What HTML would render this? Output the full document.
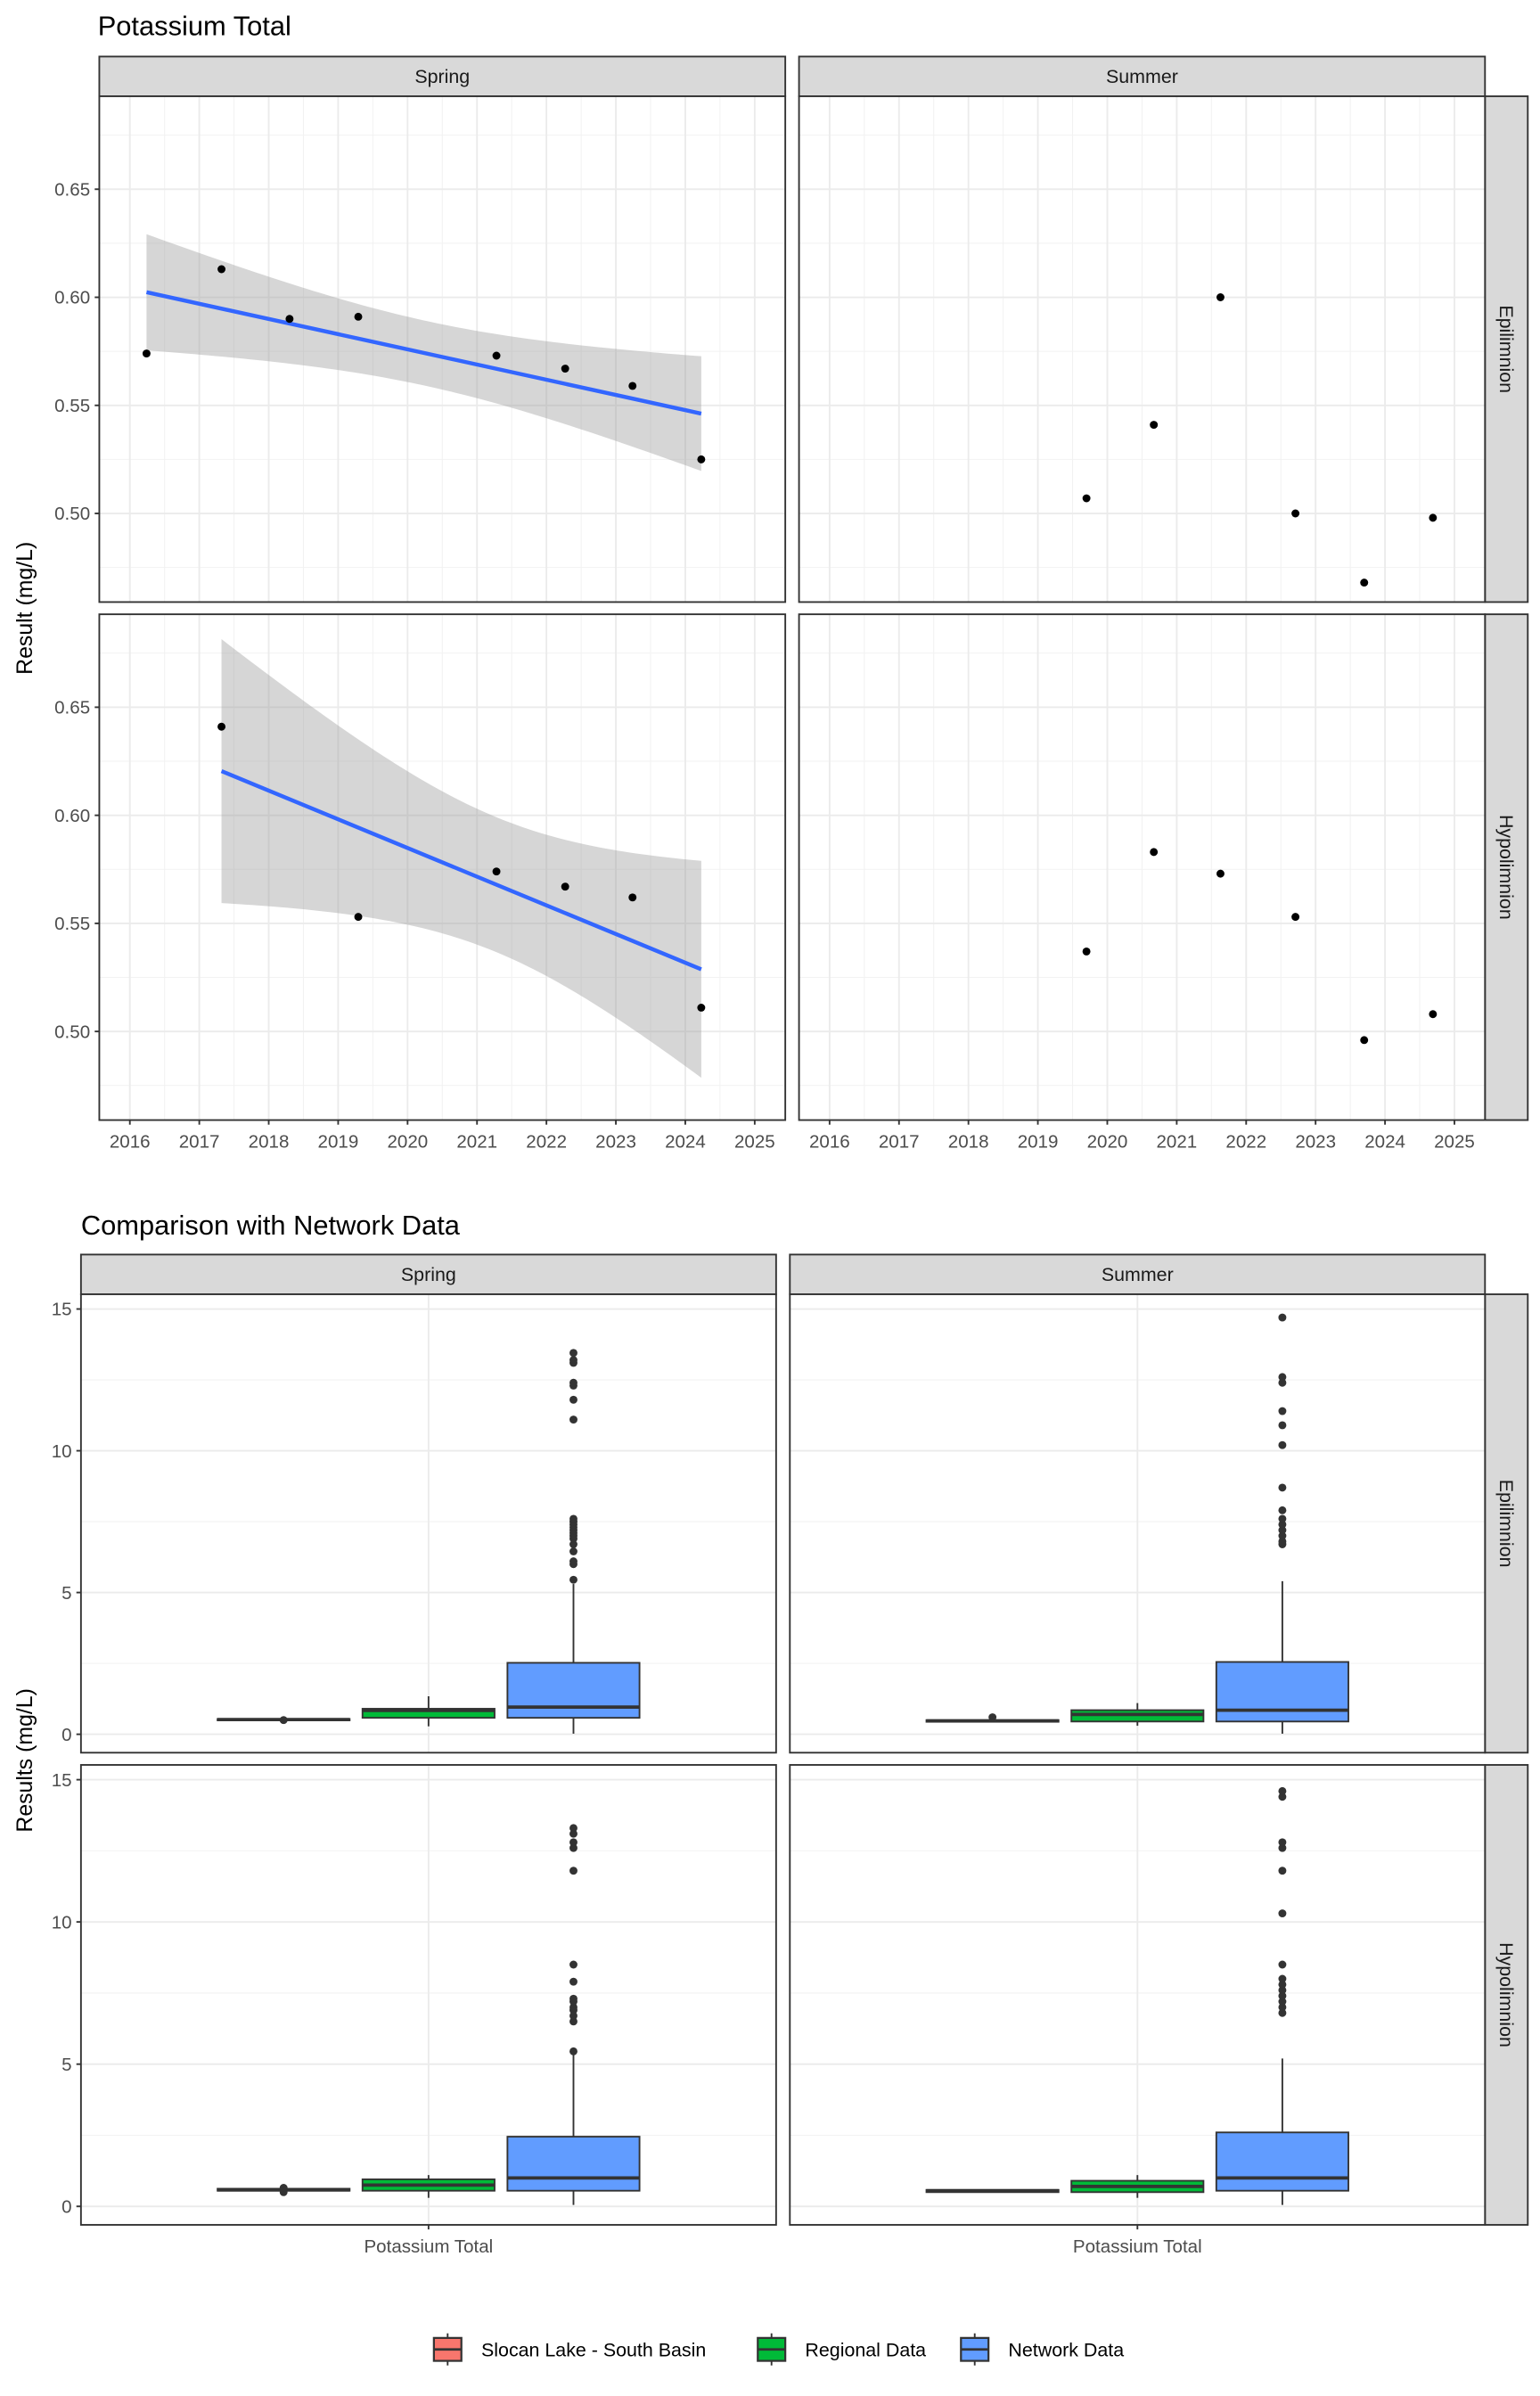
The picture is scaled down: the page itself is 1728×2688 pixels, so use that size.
<!DOCTYPE html>
<html><head><meta charset="utf-8"><style>
html,body{margin:0;padding:0;background:#fff;}
svg{display:block;font-family:"Liberation Sans",Arial,sans-serif;}
</style></head><body>
<svg id="chart" xmlns="http://www.w3.org/2000/svg" width="1728" height="2688" viewBox="0 0 1008 1568">
<rect x="0" y="0" width="1008" height="1568" fill="#fff"/>
</svg>
<script>
// ---- Trend chart data ----
const trendYearTicks = [2016,2017,2018,2019,2020,2021,2022,2023,2024,2025];
const trendValueTicks = [0.50,0.55,0.60,0.65];
const springEpiYears = [2016.24,2017.32,2018.30,2019.29,2021.28,2022.27,2023.24,2024.23];
const springEpiValues = [0.574,0.613,0.590,0.591,0.573,0.567,0.559,0.525];
const springHypoYears = [2017.32,2019.29,2021.28,2022.27,2023.24,2024.23];
const springHypoValues = [0.641,0.553,0.574,0.567,0.562,0.511];
const summerEpiYears = [2019.70,2020.67,2021.63,2022.71,2023.70,2024.69];
const summerEpiValues = [0.507,0.541,0.600,0.500,0.468,0.498];
const summerHypoYears = [2019.70,2020.67,2021.63,2022.71,2023.70,2024.69];
const summerHypoValues = [0.537,0.583,0.573,0.553,0.496,0.508];

// ---- Boxplot data: [lowWhisker, q1, median, q3, highWhisker] ----
const boxGroups = ["Slocan Lake - South Basin","Regional Data","Network Data"];
const boxValueTicks = [0,5,10,15];
const springEpiBoxes = [[0.48,0.49,0.52,0.54,0.56],[0.28,0.58,0.84,0.90,1.34],[0.02,0.58,0.96,2.52,5.3]];
const springEpiOutliers = [[0.50],[],[5.45,6.0,6.1,6.45,6.7,6.9,7.0,7.1,7.2,7.3,7.4,7.5,7.6,11.1,11.8,12.3,12.4,13.1,13.2,13.45]];
const summerEpiBoxes = [[0.42,0.44,0.47,0.50,0.52],[0.3,0.45,0.7,0.85,1.1],[0.02,0.45,0.85,2.55,5.4]];
const summerEpiOutliers = [[0.6],[],[6.7,6.8,7.0,7.2,7.4,7.6,7.9,8.7,10.2,10.9,11.4,12.4,12.6,14.7]];
const springHypoBoxes = [[0.5,0.55,0.58,0.62,0.65],[0.3,0.55,0.75,0.95,1.1],[0.05,0.55,1.0,2.45,5.4]];
const springHypoOutliers = [[0.5,0.65],[],[5.45,6.5,6.7,6.9,7.0,7.2,7.3,7.9,8.5,11.8,12.6,12.8,13.1,13.3]];
const summerHypoBoxes = [[0.5,0.5,0.55,0.58,0.58],[0.3,0.5,0.7,0.9,1.1],[0.05,0.55,1.0,2.6,5.2]];
const summerHypoOutliers = [[],[],[6.8,7.0,7.2,7.4,7.6,7.8,8.0,8.5,10.3,11.8,12.6,12.8,14.4,14.6]];
const boxColors = ["#F8766D","#00BA38","#619CFF"];

const NS="http://www.w3.org/2000/svg";
const svg=document.getElementById('chart');
function mk(tag,attrs,parent,text){const e=document.createElementNS(NS,tag);for(const k in attrs)e.setAttribute(k,attrs[k]);if(text!==undefined)e.textContent=text;(parent||svg).appendChild(e);return e;}

function title(x,y,t,name){const e=mk('text',{x:x,y:y,'font-size':18,fill:'#000'},svg,t);

}
function stripTop(x0,x1,y0,y1,t){const g=mk('g',{});


mk('rect',{x:x0,y:y0,width:x1-x0,height:y1-y0,fill:'#D9D9D9',stroke:'#333','stroke-width':1.1},g);
mk('text',{x:(x0+x1)/2,y:(y0+y1)/2+4.3,'text-anchor':'middle','font-size':12.5,fill:'#1A1A1A'},g,t);}
function stripRight(x0,x1,y0,y1,t){const g=mk('g',{});


mk('rect',{x:x0,y:y0,width:x1-x0,height:y1-y0,fill:'#D9D9D9',stroke:'#333','stroke-width':1.1},g);
const cx=(x0+x1)/2,cy=(y0+y1)/2;
mk('text',{x:cx,y:cy,'text-anchor':'middle','font-size':12.5,fill:'#1A1A1A',transform:`rotate(90 ${cx} ${cy}) translate(0 4.3)`},g,t);}

// ================= TREND CHART =================
title(64,23,'Potassium Total','trend-chart-title');
const tYmin=0.459,tYmax=0.693;
function trendPanel(px0,px1,py0,py1,yrs,vals,fit,name){
  const g=mk('g',{});
  
  
  const xs=v=>px0+20+(v-2016)*(px1-px0-40)/9;
  const ys=v=>py1-(v-tYmin)/(tYmax-tYmin)*(py1-py0);
  mk('rect',{x:px0,y:py0,width:px1-px0,height:py1-py0,fill:'#fff'},g);
  // minor grid
  for(let i=0;i<trendYearTicks.length-1;i++){const x=xs(trendYearTicks[i]+0.5);mk('line',{x1:x,x2:x,y1:py0,y2:py1,stroke:'#F2F2F2','stroke-width':0.6},g);}
  const minors=[0.475,0.525,0.575,0.625,0.675];
  minors.forEach(v=>{const y=ys(v);mk('line',{x1:px0,x2:px1,y1:y,y2:y,stroke:'#F2F2F2','stroke-width':0.6},g);});
  trendYearTicks.forEach(v=>{const x=xs(v);mk('line',{x1:x,x2:x,y1:py0,y2:py1,stroke:'#EBEBEB','stroke-width':1.1},g);});
  trendValueTicks.forEach(v=>{const y=ys(v);mk('line',{x1:px0,x2:px1,y1:y,y2:y,stroke:'#EBEBEB','stroke-width':1.1},g);});
  if(fit){
    const n=yrs.length;const mx=yrs.reduce((a,b)=>a+b)/n,my=vals.reduce((a,b)=>a+b)/n;
    let sxx=0,sxy=0;for(let i=0;i<n;i++){sxx+=(yrs[i]-mx)**2;sxy+=(yrs[i]-mx)*(vals[i]-my);}
    const b=sxy/sxx,a=my-b*mx;let sse=0;for(let i=0;i<n;i++)sse+=(vals[i]-a-b*yrs[i])**2;
    const s=Math.sqrt(sse/(n-2));const tq={4:2.776,5:2.571,6:2.447,7:2.365}[n-2]||2.3;
    const x0=Math.min(...yrs),x1=Math.max(...yrs);const up=[],lo=[];
    for(let k=0;k<=80;k++){const x=x0+(x1-x0)*k/80;const f=a+b*x;const se=s*Math.sqrt(1/n+(x-mx)**2/sxx);
      up.push(xs(x).toFixed(2)+','+ys(f+tq*se).toFixed(2));lo.unshift(xs(x).toFixed(2)+','+ys(f-tq*se).toFixed(2));}
    const band=mk('polygon',{points:up.concat(lo).join(' '),fill:'#999',opacity:0.4},g);
    
    
    const ln=mk('line',{x1:xs(x0),y1:ys(a+b*x0),x2:xs(x1),y2:ys(a+b*x1),stroke:'#3366FF','stroke-width':2.6},g);
    
    
  }
  for(let i=0;i<yrs.length;i++){
    const c=mk('circle',{cx:xs(yrs[i]),cy:ys(vals[i]),r:2.6,fill:'#000'},g);
    
    
  }
  mk('rect',{x:px0,y:py0,width:px1-px0,height:py1-py0,fill:'none',stroke:'#333','stroke-width':1.1},g);
  return {xs,ys};
}
const TL=[65,514],TR=[523,972],R1=[63,394],R2=[402,733];
stripTop(65,514,37,63,'Spring');stripTop(523,972,37,63,'Summer');
stripRight(972,1000,63,394,'Epilimnion');stripRight(972,1000,402,733,'Hypolimnion');
const p1=trendPanel(TL[0],TL[1],R1[0],R1[1],springEpiYears,springEpiValues,true,'panel-spring-epilimnion');
trendPanel(TR[0],TR[1],R1[0],R1[1],summerEpiYears,summerEpiValues,false,'panel-summer-epilimnion');
const p3=trendPanel(TL[0],TL[1],R2[0],R2[1],springHypoYears,springHypoValues,true,'panel-spring-hypolimnion');
const p4=trendPanel(TR[0],TR[1],R2[0],R2[1],summerHypoYears,summerHypoValues,false,'panel-summer-hypolimnion');
// y ticks
[[p1,R1],[p3,R2]].forEach(([p,R])=>{trendValueTicks.forEach(v=>{const y=p.ys(v);
 mk('line',{x1:TL[0]-3,x2:TL[0],y1:y,y2:y,stroke:'#333','stroke-width':1.1});
 const t=mk('text',{x:TL[0]-6,y:y+4.2,'text-anchor':'end','font-size':12,fill:'#4D4D4D'},svg,v.toFixed(2));
 
 });});
// x ticks
[[p3,TL],[p4,TR]].forEach(([p,P])=>{trendYearTicks.forEach(v=>{const x=p.xs(v);
 mk('line',{x1:x,x2:x,y1:R2[1],y2:R2[1]+3,stroke:'#333','stroke-width':1.1});
 const t=mk('text',{x:x,y:R2[1]+18,'text-anchor':'middle','font-size':12,fill:'#4D4D4D'},svg,String(v));
 
 });});
{const t=mk('text',{x:0,y:0,'text-anchor':'middle','font-size':14.5,fill:'#000',transform:'translate(21 398) rotate(-90)'},svg,'Result (mg/L)');

}

// ================= BOX CHART =================
title(53,808,'Comparison with Network Data','box-chart-title');
const bYmin=-0.65,bYmax=15.52;
function boxPanel(px0,px1,py0,py1,boxes,outs,name){
  const g=mk('g',{});
  
  
  const ys=v=>py1-(v-bYmin)/(bYmax-bYmin)*(py1-py0);
  const cx=(px0+px1)/2;const w=(px1-px0)*0.19,step=(px1-px0)*0.2085;
  mk('rect',{x:px0,y:py0,width:px1-px0,height:py1-py0,fill:'#fff'},g);
  [2.5,7.5,12.5].forEach(v=>{const y=ys(v);mk('line',{x1:px0,x2:px1,y1:y,y2:y,stroke:'#F2F2F2','stroke-width':0.6},g);});
  boxValueTicks.forEach(v=>{const y=ys(v);mk('line',{x1:px0,x2:px1,y1:y,y2:y,stroke:'#EBEBEB','stroke-width':1.1},g);});
  mk('line',{x1:cx,x2:cx,y1:py0,y2:py1,stroke:'#EBEBEB','stroke-width':1.1},g);
  for(let i=0;i<boxes.length;i++){
    const bx=cx+(i-1)*step;const b=boxes[i];
    const bg=mk('g',{},g);
    
    
    mk('line',{x1:bx,x2:bx,y1:ys(b[0]),y2:ys(b[1]),stroke:'#333','stroke-width':1.1},bg);
    mk('line',{x1:bx,x2:bx,y1:ys(b[3]),y2:ys(b[4]),stroke:'#333','stroke-width':1.1},bg);
    const yt=ys(b[3]),yb=ys(b[1]);
    mk('rect',{x:bx-w/2,y:yt,width:w,height:Math.max(yb-yt,0.5),fill:boxColors[i],stroke:'#333','stroke-width':1.1},bg);
    mk('line',{x1:bx-w/2,x2:bx+w/2,y1:ys(b[2]),y2:ys(b[2]),stroke:'#333','stroke-width':2.2},bg);
    outs[i].forEach(v=>{const c=mk('circle',{cx:bx,cy:ys(v),r:2.6,fill:'#333'},bg);
      
      });
  }
  mk('rect',{x:px0,y:py0,width:px1-px0,height:py1-py0,fill:'none',stroke:'#333','stroke-width':1.1},g);
  return {ys,cx};
}
const BL=[53,508],BR=[517,972],B1=[847,1147],B2=[1155,1456];
stripTop(53,508,821,847,'Spring');stripTop(517,972,821,847,'Summer');
stripRight(972,1000,847,1147,'Epilimnion');stripRight(972,1000,1155,1456,'Hypolimnion');
const q1=boxPanel(BL[0],BL[1],B1[0],B1[1],springEpiBoxes,springEpiOutliers,'box-panel-spring-epilimnion');
const q2=boxPanel(BR[0],BR[1],B1[0],B1[1],summerEpiBoxes,summerEpiOutliers,'box-panel-summer-epilimnion');
const q3=boxPanel(BL[0],BL[1],B2[0],B2[1],springHypoBoxes,springHypoOutliers,'box-panel-spring-hypolimnion');
const q4=boxPanel(BR[0],BR[1],B2[0],B2[1],summerHypoBoxes,summerHypoOutliers,'box-panel-summer-hypolimnion');
[q1,q3].forEach(p=>{boxValueTicks.forEach(v=>{const y=p.ys(v);
 mk('line',{x1:BL[0]-3,x2:BL[0],y1:y,y2:y,stroke:'#333','stroke-width':1.1});
 const t=mk('text',{x:BL[0]-6,y:y+4.2,'text-anchor':'end','font-size':12,fill:'#4D4D4D'},svg,String(v));
 
 });});
[q3,q4].forEach(p=>{mk('line',{x1:p.cx,x2:p.cx,y1:B2[1],y2:B2[1]+3,stroke:'#333','stroke-width':1.1});
 const t=mk('text',{x:p.cx,y:B2[1]+18,'text-anchor':'middle','font-size':12,fill:'#4D4D4D'},svg,'Potassium Total');
 
 });
{const t=mk('text',{x:0,y:0,'text-anchor':'middle','font-size':14.5,fill:'#000',transform:'translate(21 1152) rotate(-90)'},svg,'Results (mg/L)');

}

// legend
const legX=[284,496,629];
const leg=mk('g',{});


for(let i=0;i<3;i++){
  const g=mk('g',{},leg);
  
  
  const x=legX[i],cx=x+9;
  mk('line',{x1:cx,x2:cx,y1:1527,y2:1548,stroke:'#333','stroke-width':1.1},g);
  mk('rect',{x:x,y:1530,width:18,height:15,fill:boxColors[i],stroke:'#333','stroke-width':1.3},g);
  mk('line',{x1:x,x2:x+18,y1:1537.5,y2:1537.5,stroke:'#333','stroke-width':1.6},g);
  mk('text',{x:x+31,y:1542,'font-size':12.5,fill:'#000'},g,boxGroups[i]);
}
</script>
</body></html>
